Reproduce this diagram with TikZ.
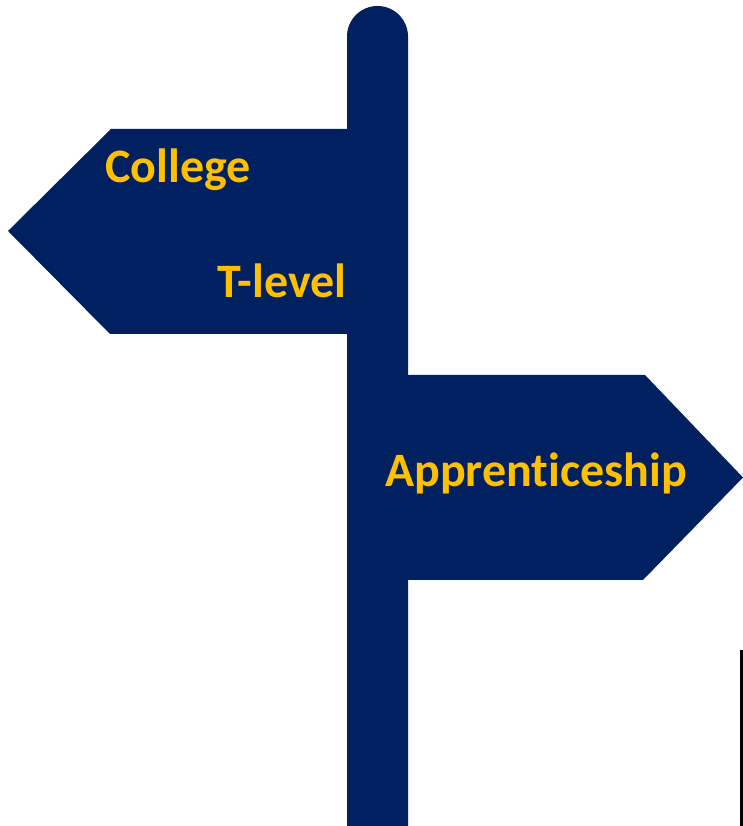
\documentclass[tikz,border=0pt]{standalone}
\usepackage{fontspec}
\setmainfont{Carlito}[RawFeature={-liga;-clig;-calt;-dlig}]
\usetikzlibrary{positioning}
\definecolor{navy}{HTML}{002060}
\definecolor{gold}{HTML}{FFC000}
\tikzstyle{board} = [fill=navy, draw=none]
\tikzstyle{route} = [text=gold, font=\fontsize{48}{56}\selectfont\bfseries, inner sep=0pt, anchor=base west]

\begin{document}
\begin{tikzpicture}[x=1pt, y=1pt]
	\useasboundingbox (0,0) rectangle (743,826);
	\fill [board] (347,0) -- (347,789.5) arc (180:0:30.5) -- (408,0) -- cycle;
	\fill [board] (8,595) -- (111,697) -- (377,697) -- (377,492) -- (110,492) -- cycle;
	\fill [board] (377,451) -- (645,451) -- (743,348.5) -- (643,246) -- (377,246) -- cycle;
	\fill [black] (740,0) rectangle (743,176);
	\node [route] (college) at (105,643) {College};
	\node [route] (tlevel) at (217,528) {T-level};
	\node [route] (apprentice) at (385,339) {Apprenticeship};
\end{tikzpicture}
\end{document}
